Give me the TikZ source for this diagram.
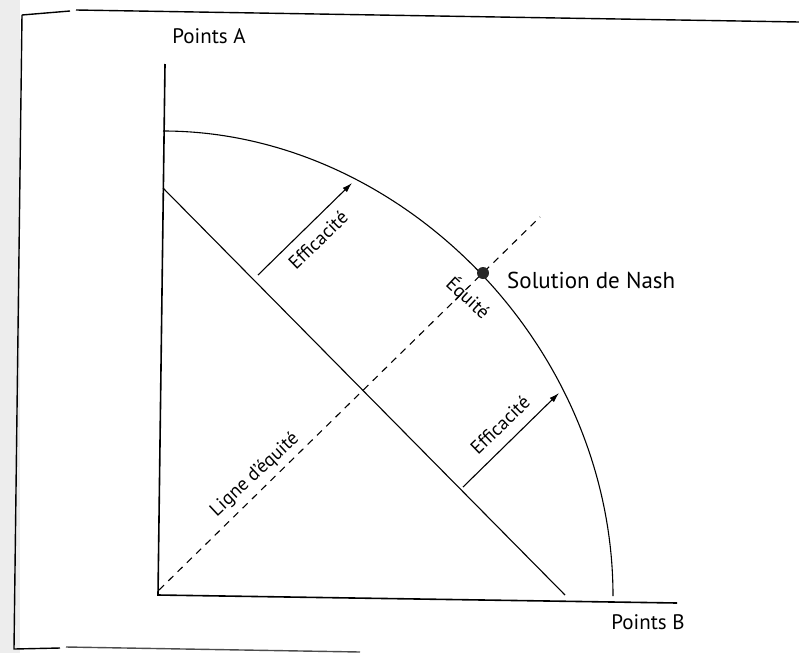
\documentclass[tikz,border=0pt]{standalone}
\usepackage{fontspec}
\setmainfont{PT Sans}
\usetikzlibrary{arrows.meta}
\begin{document}
\begin{tikzpicture}[x=1pt,y=-1pt,
  thinline/.style={line width=1.1pt},
  axisline/.style={line width=1.6pt},
  frameline/.style={line width=1.4pt},
  lbl/.style={font=\fontsize{19}{22}\selectfont, inner sep=0pt},
  axlbl/.style={font=\fontsize{21}{24}\selectfont, inner sep=0pt},
  nashlblstyle/.style={font=\fontsize{23}{26}\selectfont, inner sep=0pt},
  eqdash/.style={line width=1.1pt, dash pattern=on 7pt off 6pt},
  effarrow/.style={line width=1.1pt, -{Latex[length=10pt,width=6pt]}}]
\useasboundingbox (0,0) rectangle (799,653);
% scan shadow on the left margin
\fill[black!7] (0,0) rectangle (20,653);
% frame
\coordinate (f1) at (22,15);
\coordinate (f2) at (70,11);
\coordinate (f3) at (76,10);
\coordinate (f4) at (799,22);
\coordinate (f5) at (14,649);
\coordinate (f6) at (60,648);
\coordinate (f7) at (66,647);
\coordinate (f8) at (360,652);
\draw[frameline] (f1) -- (f2);
\draw[frameline] (f3) -- (f4);
\draw[frameline] (f1) -- (f5) -- (f6);
\draw[frameline, black!70] (f7) -- (f8);
% axes
\coordinate (O) at (158,595);
\coordinate (ytop) at (165,64);
\coordinate (xend) at (677,603);
\draw[axisline] (ytop) -- (O) -- (xend);
\node[axlbl] (pa) at (209,36) {Points A};
\node[axlbl] (pb) at (648,622) {Points B};
% frontier
\coordinate (ftop) at (163,131);
\coordinate (fbot) at (613,596);
\draw[thinline] (ftop) .. controls (400,131) and (613,345) .. (fbot);
% budget line
\coordinate (b1) at (163,188);
\coordinate (b2) at (565,595);
\draw[thinline] (b1) -- (b2);
% equity line
\coordinate (e1) at (159,590);
\coordinate (e2) at (540,217);
\draw[eqdash] (e1) -- (e2);
% Nash
\node[circle, fill=black!85, inner sep=0pt, minimum size=12pt] (nash) at (483,273) {};
\node[nashlblstyle, anchor=west] (nashlbl) at (507,280) {Solution de Nash};
\node[lbl, rotate=-43] (eq) at (468,298) {Équité};
\node[lbl, rotate=43] (ligne) at (255,475) {Ligne d'équité};
% efficiency arrows
\coordinate (a1s) at (258,275);
\coordinate (a1e) at (352,183);
\draw[effarrow] (a1s) -- (a1e);
\node[lbl, rotate=44] (eff1) at (318,240) {Efficacité};
\coordinate (a2s) at (463,487);
\coordinate (a2e) at (559,393);
\draw[effarrow] (a2s) -- (a2e);
\node[lbl, rotate=44] (eff2) at (500,425) {Efficacité};
\end{tikzpicture}
\end{document}
